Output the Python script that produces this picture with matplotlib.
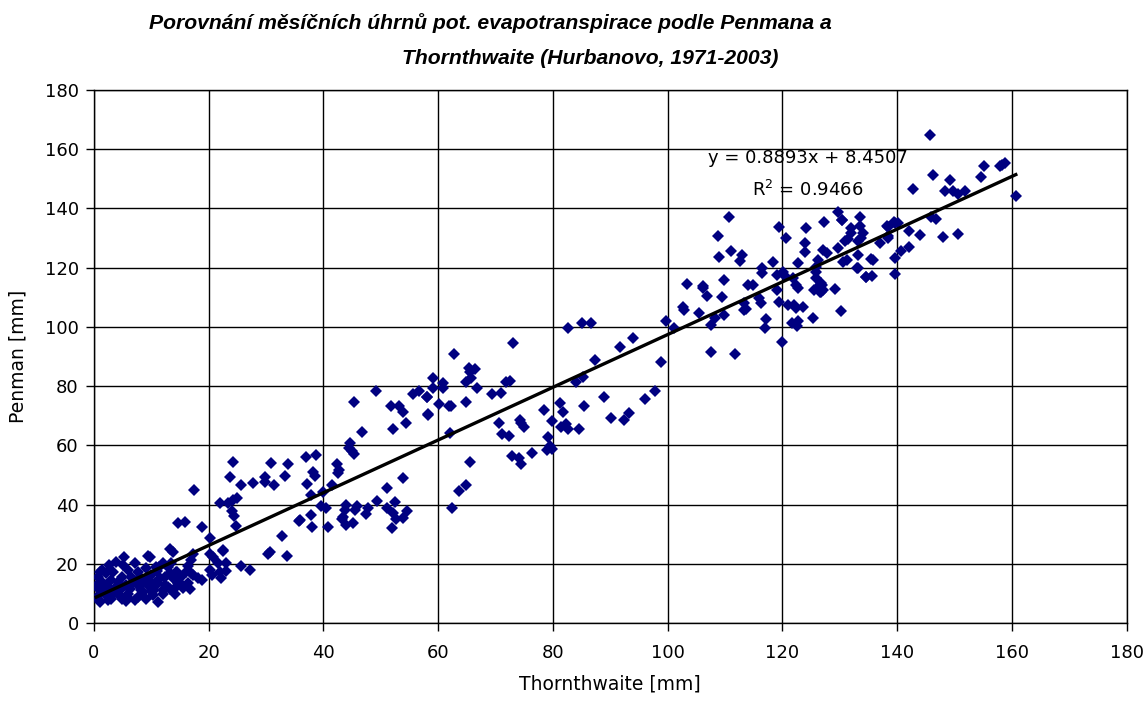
import numpy as np
import matplotlib
matplotlib.use('Agg')
import matplotlib.pyplot as plt

plt.rcParams['font.family'] = ['DejaVu Sans']

# mesicni uhrny [mm] -- zimni mesice (Thornthwaite, Penman)
winter_t = [1.0, 0.7, 1.6, 1.0, 0.7, 0.5, 1.0, 2.1, 3.9, 3.3, 3.0, 2.4, 3.3, 2.4, 5.3, 5.1,
            5.9, 4.8, 6.5, 5.6, 4.5, 5.9, 4.8, 7.1, 7.1, 7.7, 7.4, 8.2, 7.7, 9.4, 9.1, 10.0,
            8.8, 9.7, 10.3, 9.1, 11.2, 11.4, 12.3, 11.2, 12.0, 12.9, 13.2, 13.8, 13.5, 14.3,
            14.6, 13.8, 14.1, 15.2, 16.1, 17.0, 16.4, 17.3, 9.8, 12.1, 10.9, 12.9, 16.4, 17.0,
            14.4, 13.2, 18.2, 18.8, 11.5, 10.6, 12.4, 13.2, 15.0, 12.1, 17.3, 20.2, 22.5, 20.8,
            20.2, 18.8, 14.7, 15.9, 17.4, 20.2, 21.7, 23.1, 22.0, 23.1, 20.5, 22.2, 25.7, 27.2,
            1.8, 2.8, 3.6, 4.2, 6.2, 6.8, 8.5, 9.5, 10.5, 0.4, 1.4, 2.6, 4.6, 6.0, 8.0, 11.0,
            3.0, 5.5, 7.9, 9.9, 13.9, 15.5, 16.8]
winter_p = [17.3, 15.6, 13.4, 11.1, 8.3, 8.9, 7.2, 16.8, 20.7, 17.3, 14.5, 12.3, 10.0, 7.8, 22.4, 19.6,
            17.9, 15.6, 15.6, 12.8, 11.1, 10.0, 8.3, 7.8, 20.2, 17.3, 13.4, 11.1, 8.9, 22.6, 18.5, 16.2,
            13.9, 12.3, 9.5, 8.3, 7.2, 19.0, 15.6, 13.4, 11.1, 12.3, 25.2, 24.1, 20.2, 17.3,
            13.4, 15.1, 10.0, 15.6, 17.3, 21.3, 13.4, 16.2, 22.4, 20.4, 19.0, 19.0, 19.3, 17.0,
            17.3, 16.8, 15.1, 14.5, 15.1, 13.4, 12.8, 11.7, 13.4, 10.0, 23.5, 23.5, 24.4, 22.4,
            28.6, 32.5, 33.9, 34.2, 45.1, 17.9, 20.2, 20.2, 17.3, 17.7, 16.2, 15.1, 19.3, 18.1,
            10.2, 9.0, 12.0, 14.0, 11.5, 13.8, 10.5, 15.0, 11.2, 12.5, 18.0, 19.5, 9.2, 8.6, 15.5, 17.5,
            8.2, 7.5, 12.4, 10.8, 11.5, 12.0, 11.5]

# jaro a podzim
spring_t = [24.2, 23.7, 25.6, 27.8, 29.8, 29.8, 30.8, 31.4, 33.3, 33.9, 36.9, 37.1, 22.0, 23.4,
            24.3, 24.9, 24.0, 24.4, 24.7, 35.9, 32.8, 30.7, 30.4, 33.6, 22.5,
            38.7, 38.2, 38.5, 37.9, 42.3, 42.7, 42.6, 41.5, 40.0, 44.7, 44.5, 44.9, 45.3, 45.4,
            46.8, 49.1, 51.7, 53.1, 53.9, 54.4, 52.2, 55.6, 56.7, 58.1, 59.1, 59.1, 60.8, 60.9,
            60.2, 58.2, 61.9, 53.9, 51.1, 49.4, 52.4, 54.5, 51.0, 52.2, 52.7, 53.9, 52.0, 47.8,
            47.4, 45.8, 45.5, 44.0, 43.7, 43.4, 43.2, 44.0, 45.2, 40.8, 40.5, 39.6, 37.9, 38.0, 35.8,
            73.1, 62.8, 65.4, 66.4, 65.5, 65.8, 64.9, 58.0, 62.2, 58.3, 64.8, 66.8, 69.3, 70.9,
            71.9, 72.6, 62.0, 65.6, 70.6, 71.2, 72.4, 74.2, 74.5, 75.0, 72.8, 74.1, 74.4, 76.3,
            78.4, 79.9, 79.2, 78.9, 79.5, 79.9, 81.3, 81.8, 81.5, 82.2, 82.6, 84.6, 84.1, 85.3,
            87.3, 91.7, 93.9, 98.9, 85.4, 88.9, 90.2, 92.4, 93.3, 96.1, 97.8, 82.6, 85.0, 86.7,
            99.8, 62.5, 63.6, 64.8]
spring_p = [54.5, 49.4, 46.5, 47.4, 49.4, 47.7, 54.1, 46.5, 49.6, 53.6, 56.2, 46.8, 40.6, 40.6,
            41.5, 42.4, 37.9, 36.1, 32.8, 34.8, 29.3, 24.1, 23.4, 22.6, 24.7,
            56.7, 51.1, 49.6, 43.2, 53.6, 51.7, 50.8, 46.5, 44.3, 60.7, 59.0, 58.2, 57.1, 74.6,
            64.6, 78.4, 73.3, 73.3, 71.4, 67.7, 65.5, 77.2, 78.5, 76.4, 82.6, 79.2, 80.9, 79.2,
            74.0, 70.5, 73.3, 48.9, 45.7, 41.3, 41.0, 37.9, 39.0, 37.3, 35.0, 35.4, 32.0, 38.7,
            37.0, 39.5, 38.2, 39.9, 38.2, 35.9, 35.1, 33.1, 33.9, 32.5, 38.7, 39.5, 36.5, 32.5, 34.5,
            94.5, 90.7, 86.2, 85.7, 84.9, 82.6, 81.5, 76.4, 73.3, 70.3, 74.7, 79.3, 77.2, 77.6,
            81.5, 81.8, 64.3, 54.4, 67.4, 63.7, 63.2, 68.6, 67.4, 66.3, 56.5, 55.6, 53.7, 57.3,
            71.9, 68.3, 62.9, 58.4, 59.9, 58.7, 74.4, 71.4, 66.3, 67.1, 65.5, 65.4, 81.5, 83.2,
            88.8, 93.3, 96.1, 88.2, 73.3, 76.4, 69.3, 68.7, 71.0, 75.5, 78.5, 99.5, 101.2, 101.2,
            102.0, 39.0, 44.5, 46.5]

# letni mesice
summer_t = [102.7, 102.8, 105.5, 107.6, 108.2, 109.9, 113.4, 113.4, 107.6, 111.7, 101.2,
            110.7, 108.7, 111.1, 109.0, 112.6, 112.9, 119.4, 120.7, 124.2, 127.2, 129.7, 130.4,
            133.5, 133.6, 131.9, 132.0, 134.0, 133.8, 131.4, 131.0, 133.2, 137.0, 138.2, 139.6,
            138.4, 123.9, 123.9, 127.1, 127.7, 129.7, 126.2, 125.8, 122.7, 131.2, 130.6, 133.2,
            135.5, 133.2, 134.6, 135.7, 139.7, 139.7,
            116.5, 116.5, 118.3, 119.0, 120.1, 120.4, 121.9, 122.4, 122.7, 119.0, 119.5, 121.0,
            122.1, 122.4, 123.6,
            125.9, 126.2, 126.8, 127.1, 126.5, 125.6, 129.1, 125.9, 130.3, 125.3, 121.6, 122.7,
            122.5, 120.0, 117.1, 116.9,
            114.0, 114.8, 116.0, 116.3, 113.7, 109.9, 109.4, 106.8, 106.2, 106.2, 103.3,
            145.7, 142.8, 146.2, 149.2, 148.3, 149.7, 150.6, 151.8, 154.6, 155.1, 157.9, 158.3,
            158.8, 160.7, 146.0, 146.8, 148.0, 150.6, 144.0, 142.1, 142.1, 140.6, 140.2, 139.4,
            138.4, 138.5, 135.8, 134.5, 133.1, 130.4, 127.0, 126.8]
summer_p = [106.8, 105.7, 104.6, 100.6, 102.9, 104.0, 108.0, 105.7, 91.6, 90.7, 99.5,
            137.0, 130.5, 125.6, 123.4, 122.3, 124.3, 133.6, 130.1, 133.5, 135.3, 138.9, 135.9,
            136.9, 133.9, 133.3, 131.6, 131.6, 129.9, 129.6, 128.8, 128.8, 128.2, 133.9, 135.2,
            130.5, 128.4, 125.4, 126.0, 124.9, 126.5, 122.6, 120.3, 121.5, 122.6, 122.0, 124.3,
            122.8, 119.8, 116.7, 117.0, 123.2, 117.8,
            119.8, 118.1, 122.0, 117.5, 118.6, 117.0, 116.4, 114.2, 113.0, 112.5, 108.5, 107.4,
            107.4, 106.3, 106.8,
            116.4, 113.6, 114.7, 112.5, 111.6, 112.5, 112.7, 118.6, 105.5, 103.1, 101.4, 101.8,
            100.3, 94.8, 102.6, 99.5,
            114.2, 114.2, 109.6, 108.0, 105.9, 115.8, 110.0, 110.4, 113.8, 113.0, 114.5,
            164.8, 146.6, 151.3, 149.6, 145.9, 145.9, 144.9, 145.9, 150.4, 154.3, 154.1, 154.7,
            155.2, 144.0, 137.2, 136.4, 130.3, 131.4, 131.0, 132.5, 126.9, 125.6, 135.0, 135.5,
            133.6, 129.9, 122.6, 116.8, 119.8, 136.1, 114.2, 111.9]

# linearni trend (rovnice zobrazena v grafu)
slope = 0.8893
intercept = 8.4507
r2 = 0.9466

ticks = list(range(0, 181, 20))
title_1 = 'Porovnání měsíčních úhrnů pot. evapotranspirace podle Penmana a'
title_2 = 'Thornthwaite (Hurbanovo, 1971-2003)'

x = np.array(winter_t + spring_t + summer_t)
y = np.array(winter_p + spring_p + summer_p)

fig = plt.figure(figsize=(11.46, 7.01), dpi=100)
ax = fig.add_axes([0.082, 0.111, 0.901, 0.761])

ax.plot(x, y, linestyle='none', marker='D', markersize=5.8,
        color='#000080', markeredgewidth=0, zorder=3)

xt = np.array([x.min(), x.max()])
ax.plot(xt, slope * xt + intercept, color='black', linewidth=2.4, zorder=4)

ax.text(124.4, 157.0, 'y = %.4fx + %.4f' % (slope, intercept), fontsize=13,
        ha='center', va='center', zorder=5)
ax.text(124.4, 146.2, 'R$^2$ = %.4f' % r2, fontsize=13,
        ha='center', va='center', zorder=5)

ax.set_xlim(0, 180)
ax.set_ylim(0, 180)
ax.set_xticks(ticks)
ax.set_yticks(ticks)
ax.grid(True, color='black', linewidth=1.0)
ax.set_axisbelow(True)
for s in ax.spines.values():
    s.set_color('black')
    s.set_linewidth(1.0)
ax.tick_params(direction='out', length=6, width=1, labelsize=13)
ax.tick_params(axis='x', pad=9)
ax.tick_params(axis='y', pad=5)

ax.set_xlabel('Thornthwaite [mm]', fontsize=13.5, labelpad=9)
ax.set_ylabel('Penman [mm]', fontsize=13.5, labelpad=12)

tfont = dict(family='Liberation Sans', fontsize=15.2, fontweight='bold', style='italic',
             ha='center', va='center')
fig.text(0.4276, 0.967, title_1, **tfont)
fig.text(0.515, 0.916, title_2, **tfont)

fig.savefig('out.png', dpi=100)
